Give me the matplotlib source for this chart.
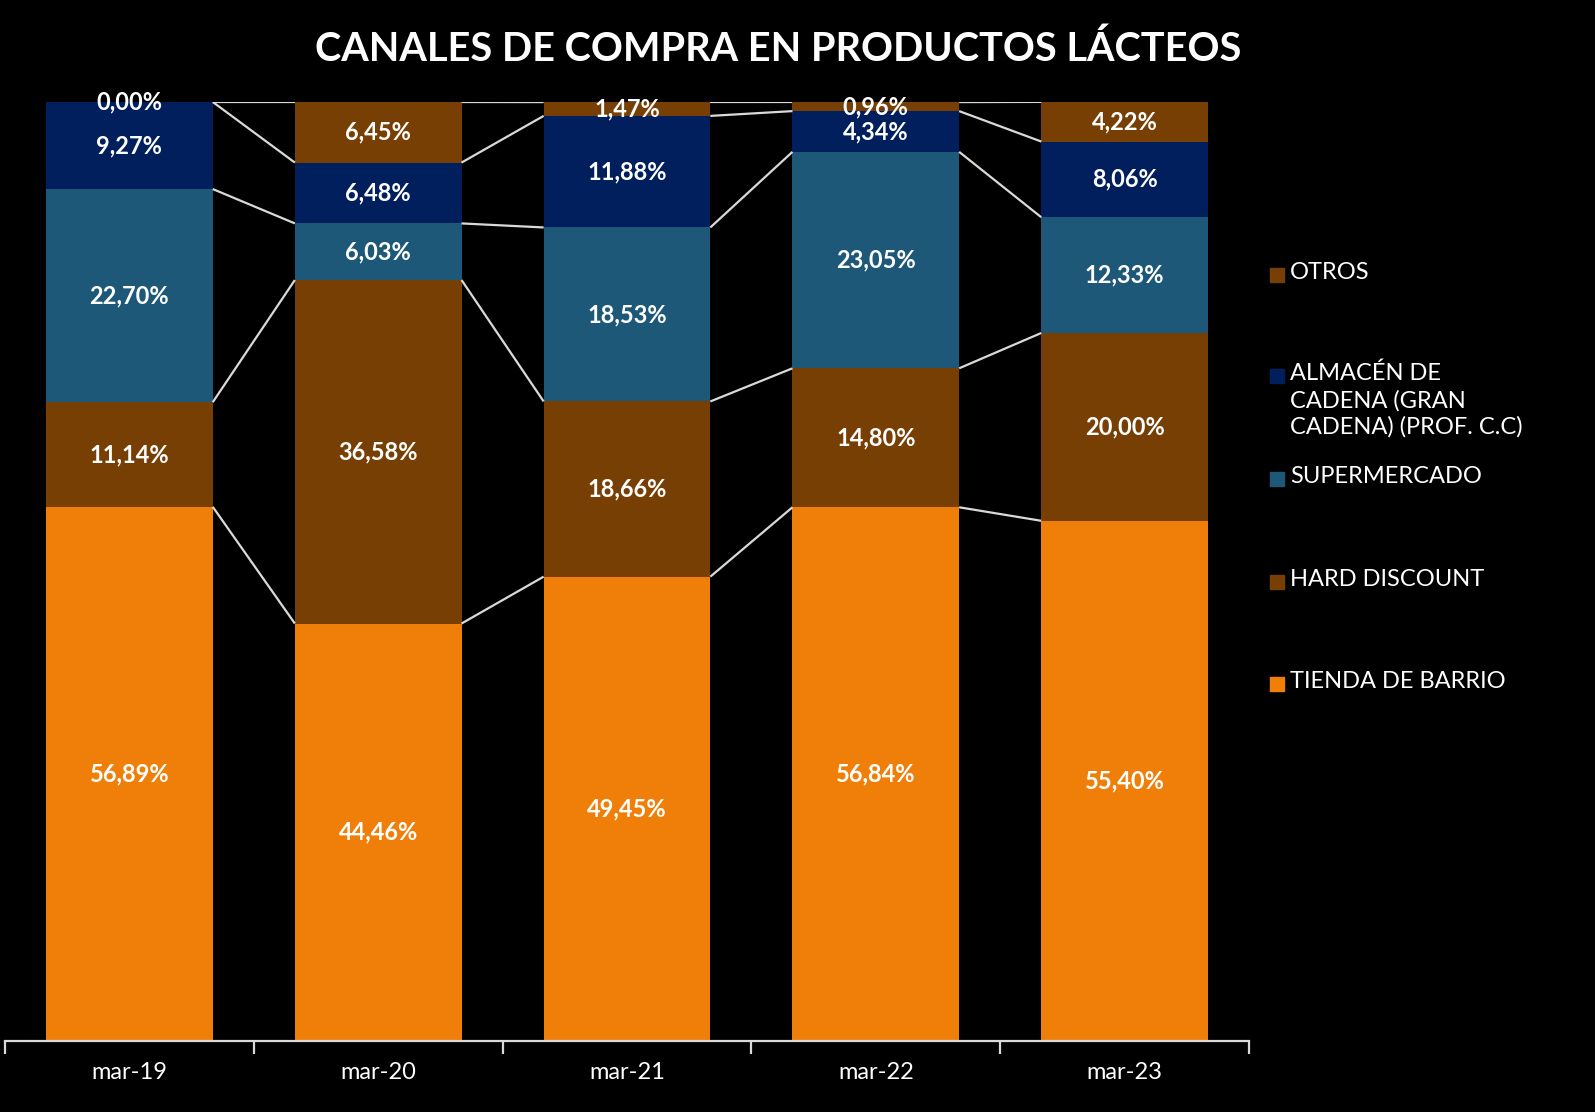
import matplotlib
matplotlib.use("Agg")
import matplotlib.pyplot as plt
from matplotlib.patches import Rectangle
import numpy as np

plt.rcParams['font.family'] = ['Lato', 'DejaVu Sans']

categories = ["mar-19", "mar-20", "mar-21", "mar-22", "mar-23"]
series_names = ["TIENDA DE BARRIO", "HARD DISCOUNT", "SUPERMERCADO",
                "ALMACÉN DE\nCADENA (GRAN\nCADENA) (PROF. C.C)", "OTROS"]
tienda = [56.89, 44.46, 49.45, 56.84, 55.40]
hard = [11.14, 36.58, 18.66, 14.80, 20.00]
super_ = [22.70, 6.03, 18.53, 23.05, 12.33]
almacen = [9.27, 6.48, 11.88, 4.34, 8.06]
otros = [0.00, 6.45, 1.47, 0.96, 4.22]
colors = ["#F07F09", "#783F04", "#1E5878", "#001F5C", "#783F04"]

data = [tienda, hard, super_, almacen, otros]

fig = plt.figure(figsize=(15.95, 11.12), dpi=100, facecolor="black")
ax = fig.add_axes([5/1595, 1 - 1041/1112, 1244/1595, (1041 - 102)/1112])
ax.set_facecolor("black")

x = np.arange(len(categories))
w = 0.67
bottom = np.zeros(len(categories))
tops = []
for vals, col in zip(data, colors):
    vals = np.array(vals)
    ax.bar(x, vals, w, bottom=bottom, color=col, zorder=2)
    for xi, b, v in zip(x, bottom, vals):
        ax.text(xi, b + v / 2, f"{v:.2f}%".replace(".", ","), ha="center", va="center",
                color="white", fontsize=17, fontweight="bold", zorder=4)
    bottom = bottom + vals
    tops.append(bottom.copy())

# series lines
for t in tops:
    for i in range(len(categories) - 1):
        ax.plot([x[i] + w / 2, x[i + 1] - w / 2], [t[i], t[i + 1]],
                color="#D9D9D9", lw=1.6, zorder=3, solid_capstyle="butt")

ax.set_xlim(-0.5, len(categories) - 0.5)
ax.set_ylim(0, 100)
for s in ["top", "right", "left"]:
    ax.spines[s].set_visible(False)
ax.spines["bottom"].set_color("#D9D9D9")
ax.spines["bottom"].set_linewidth(1.6)
ax.set_yticks([])
ax.set_xticks(np.arange(-0.5, len(categories), 1.0))
ax.set_xticklabels([])
ax.set_xticks(x, minor=True)
ax.set_xticklabels(categories, minor=True, color="white", fontsize=17)
ax.tick_params(axis="x", which="major", direction="out", length=9, width=1.6, color="#D9D9D9")
ax.tick_params(axis="x", which="minor", length=0, pad=15)

fig.text(0.488, 0.956, "CANALES DE COMPRA EN PRODUCTOS LÁCTEOS", ha="center", va="center",
         color="white", fontsize=28.5, fontweight="bold")

# legend (manual)
leg_items = [("OTROS", colors[4], 275),
             ("ALMACÉN DE\nCADENA (GRAN\nCADENA) (PROF. C.C)", colors[3], 376),
             ("SUPERMERCADO", colors[2], 479),
             ("HARD DISCOUNT", colors[1], 582),
             ("TIENDA DE BARRIO", colors[0], 684)]
for label, col, ypx in leg_items:
    yf = 1 - ypx / 1112
    sq = 14
    fig.patches.append(Rectangle((1270 / 1595, yf - sq / 2 / 1112), sq / 1595, sq / 1112,
                                 transform=fig.transFigure, color=col))
    fig.text(1290 / 1595, yf + 13 / 1112, label, ha="left", va="top", color="white",
             fontsize=17, linespacing=1.3)

fig.savefig("out.png", dpi=100, facecolor="black")
